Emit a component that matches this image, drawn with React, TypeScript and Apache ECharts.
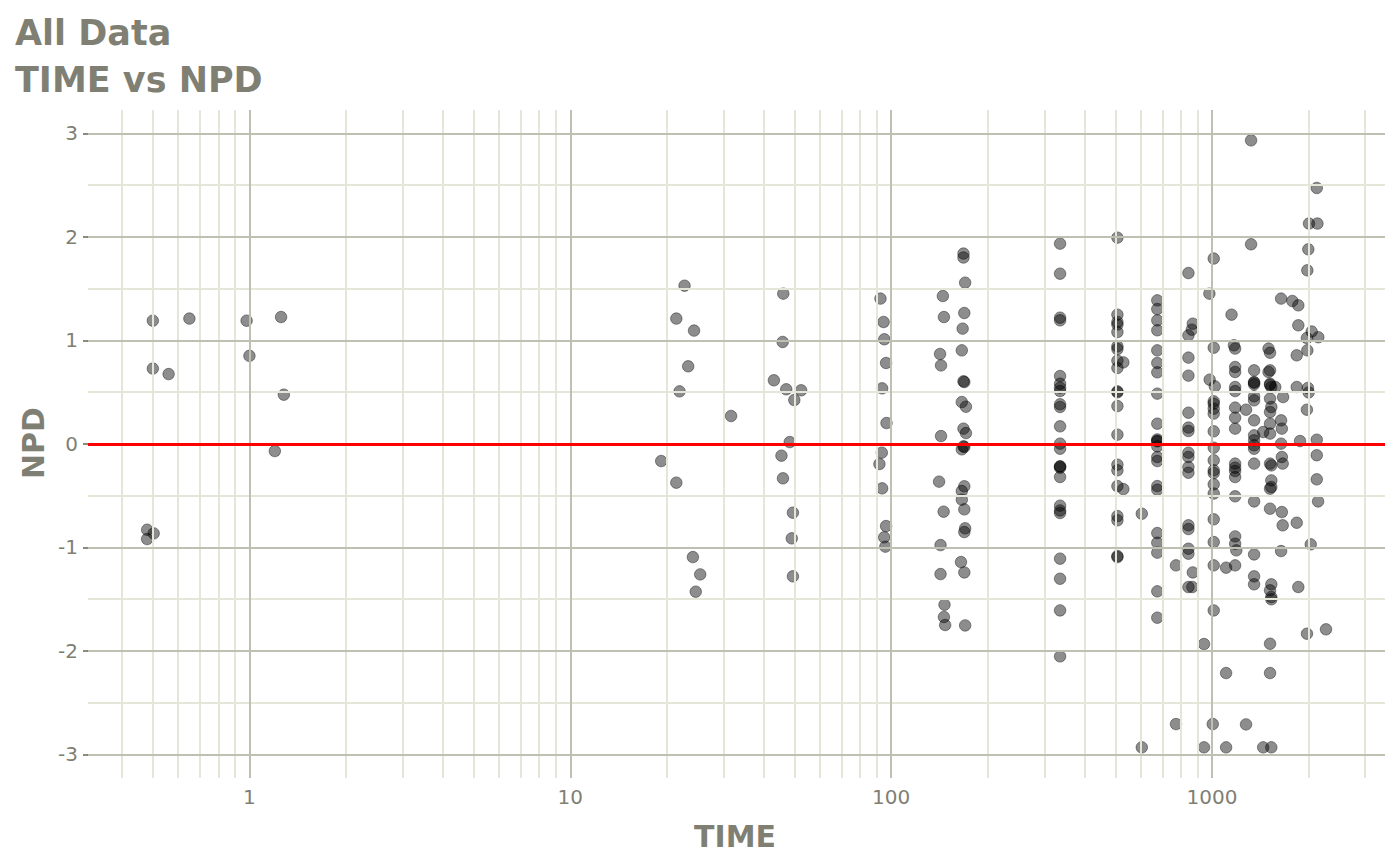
import React, { useEffect, useRef } from 'react';
import * as echarts from 'echarts';

// [TIME, NPD] observations, grouped by time range
const obsBelow2: number[][] = [
  [0.5, 1.19], [0.65, 1.21], [0.98, 1.19], [1.255, 1.225], [1.0, 0.85], [0.5, 0.727], [0.56, 0.674],
  [1.28, 0.475], [1.2, -0.07], [0.48, -0.83], [0.503, -0.865], [0.48, -0.92],
];

const obs19to53: number[][] = [
  [22.7, 1.528], [46.1, 1.451], [21.4, 1.21], [24.3, 1.094], [45.9, 0.984], [23.3, 0.749], [43.1, 0.614],
  [21.9, 0.507], [47.1, 0.527], [52.4, 0.517], [49.9, 0.423], [31.7, 0.269], [48.3, 0.017], [19.2, -0.166],
  [45.5, -0.114], [21.4, -0.375], [46.0, -0.333], [49.4, -0.665], [49.0, -0.913], [24.1, -1.094],
  [25.4, -1.261], [24.6, -1.428], [49.4, -1.28],
];

const obs90to170: number[][] = [
  [92.6, 1.403], [94.7, 1.177], [95.2, 1.01], [96.4, 0.781], [93.7, 0.536], [96.7, 0.201], [93.5, -0.085],
  [91.9, -0.195], [93.7, -0.43], [96.4, -0.794], [95.1, -0.903], [95.9, -0.993],
  [144.9, 1.428], [146, 1.225], [142, 0.868], [143, 0.758], [143, 0.075], [141, -0.365], [145.7, -0.655],
  [142.5, -0.978], [142.5, -1.258], [146.6, -1.554], [146, -1.673], [147.3, -1.75],
  [168, 1.838], [168, 1.8], [170, 1.557], [169, 1.264], [167, 1.113], [166, 0.903], [168, 0.604], [169, 0.597],
  [166, 0.404], [171, 0.359], [168, 0.147], [171, 0.104], [168, -0.024], [166, -0.053], [169, -0.03],
  [169, -0.41], [166, -0.456], [166, -0.539], [169, -0.633], [170, -0.816], [169, -0.852], [165, -1.142],
  [169, -1.242], [170, -1.754],
];

const obs330to610: number[][] = [
  [336, 1.934], [336, 1.644], [336, 1.219], [336, 1.193], [336, 0.655], [336, 0.581], [336, 0.543], [336, 0.51],
  [336, 0.382], [336, 0.356], [336, 0.169], [336, 0.002], [336, -0.047], [336, -0.217], [336, -0.23],
  [336, -0.22], [336, -0.32], [336, -0.597], [336, -0.643], [336, -0.668], [336, -1.109], [336, -1.303],
  [336, -1.609], [336, -2.053],
  [507, 1.992], [507, 1.248], [507, 1.177], [507, 1.152], [507, 1.08], [507, 0.942], [507, 0.916], [507, 0.804],
  [529, 0.787], [507, 0.733], [507, 0.507], [507, 0.498], [507, 0.365], [507, 0.089], [507, -0.201],
  [507, -0.256], [507, -0.408], [529, -0.437], [507, -0.698], [507, -0.739], [507, -1.084], [507, -1.094],
  [604, -0.675], [604, -2.932],
];

const obs670to1110: number[][] = [
  [675, 1.386], [675, 1.302], [675, 1.193], [675, 1.097], [675, 0.903], [675, 0.781], [675, 0.691], [675, 0.485],
  [675, 0.195], [675, 0.043], [675, 0.024], [675, 0.03], [675, -0.024], [675, -0.127], [675, -0.166],
  [675, -0.408], [675, -0.443], [675, -0.862], [675, -0.955], [675, -1.051], [675, -1.425], [675, -1.679],
  [772, -1.174], [772, -2.707],
  [844, 1.65], [871, 1.161], [865, 1.103], [844, 1.048], [844, 0.833], [844, 0.659], [844, 0.301], [844, 0.157],
  [844, 0.124], [844, -0.085], [844, -0.127], [844, -0.224], [844, -0.279], [844, -0.787], [844, -0.823],
  [844, -1.013], [844, -1.061], [871, -1.242], [844, -1.383], [868, -1.383],
  [944, -1.934], [944, -2.932],
  [1012, 1.79], [981, 1.451], [1012, 0.929], [983, 0.62], [1020, 0.556], [1012, 0.411], [1012, 0.388],
  [1012, 0.34], [1012, 0.292], [1012, 0.121], [1012, -0.037], [1012, -0.159], [1012, -0.256], [1012, -0.282],
  [1012, -0.391], [1012, -0.48], [1012, -0.729], [1012, -0.949], [1012, -1.174], [1012, -1.609], [1005, -2.707],
  [1106, -1.196], [1106, -2.214], [1106, -2.932],
];

const obs1150to1700: number[][] = [
  [1150, 1.248], [1170, 0.952], [1180, 0.92], [1180, 0.742], [1180, 0.694], [1180, 0.549], [1180, 0.51],
  [1180, 0.35], [1180, 0.253], [1180, 0.147], [1180, -0.191], [1180, -0.23], [1180, -0.263], [1180, -0.321],
  [1180, -0.507], [1180, -0.894], [1180, -0.965], [1190, -1.029], [1180, -1.174],
  [1276, 0.33], [1276, -2.71],
  [1323, 2.932], [1323, 1.928], [1352, 0.71], [1352, 0.597], [1352, 0.59], [1352, 0.575], [1352, 0.459],
  [1352, 0.42], [1352, 0.227], [1352, 0.082], [1352, 0.034], [1352, -0.014], [1352, -0.047], [1352, -0.191],
  [1352, -0.556], [1352, -1.068], [1352, -1.28], [1352, -1.357],
  [1443, 0.114], [1443, -2.932],
  [1500, 0.92], [1516, 0.88], [1516, 0.71], [1500, 0.694], [1516, 0.58], [1516, 0.57], [1530, 0.549],
  [1516, 0.437], [1530, 0.356], [1516, 0.307], [1516, 0.195], [1516, 0.099], [1516, -0.191], [1530, -0.208],
  [1530, -0.353], [1530, -0.417], [1516, -0.433], [1516, -0.626], [1530, -1.357], [1516, -1.415],
  [1530, -1.48], [1530, -1.502], [1516, -1.931], [1516, -2.214], [1530, -2.932],
  [1574, 0.549],
  [1641, 1.403], [1665, 0.452], [1641, 0.227], [1650, 0.147], [1641, 0.002], [1650, -0.127], [1660, -0.191],
  [1650, -0.659], [1660, -0.787], [1641, -1.036],
];

const obs1750plus: number[][] = [
  [1779, 1.38], [1857, 1.338], [1857, 1.145], [1836, 0.855], [1836, 0.549], [1880, 0.027], [1836, -0.762],
  [1857, -1.383],
  [2005, 2.128], [1995, 1.879], [1981, 1.676], [2044, 1.085], [1975, 1.022], [1981, 0.903], [1990, 0.54],
  [2000, 0.497], [1975, 0.33], [2030, -0.971], [1976, -1.834],
  [2120, 2.472], [2130, 2.128], [2143, 1.03], [2120, 0.04], [2120, -0.11], [2120, -0.343], [2140, -0.556],
  [2265, -1.792],
];

// axis ranges and reference lines
const X_MIN = 0.314;
const X_MAX = 3459;
const Y_MIN = -3.228;
const Y_MAX = 3.225;
const X_MAJOR = [1, 10, 100, 1000];
const X_MINOR = [
  0.4, 0.5, 0.6, 0.7, 0.8, 0.9, 2, 3, 4, 5, 6, 7, 8, 9, 20, 30, 40, 50, 60, 70, 80, 90,
  200, 300, 400, 500, 600, 700, 800, 900, 2000, 3000,
];
const Y_MAJOR = [-3, -2, -1, 0, 1, 2, 3];
const Y_MINOR = [-2.5, -1.5, -0.5, 0.5, 1.5, 2.5];
const REF_LINE = 0;

const TEXT_COLOR = '#7f7f74';
const MAJOR_COLOR = '#bfbfb2';
const MINOR_COLOR = '#e6e6d8';
const TICK_COLOR = '#8a8a80';
const FONT = '"DejaVu Sans", sans-serif';

export default function App() {
  const ref = useRef<HTMLDivElement>(null);

  useEffect(() => {
    if (!ref.current) return;
    const chart = echarts.init(ref.current, undefined, { renderer: 'svg' });
    const allObs = [
      ...obsBelow2, ...obs19to53, ...obs90to170, ...obs330to610,
      ...obs670to1110, ...obs1150to1700, ...obs1750plus,
    ];
    const gridLines = [
      ...X_MINOR.map((v) => ({ xAxis: v, lineStyle: { color: MINOR_COLOR, width: 2, type: 'solid' } })),
      ...Y_MINOR.map((v) => ({ yAxis: v, lineStyle: { color: MINOR_COLOR, width: 2, type: 'solid' } })),
      ...X_MAJOR.map((v) => ({ xAxis: v, lineStyle: { color: MAJOR_COLOR, width: 2, type: 'solid' } })),
      ...Y_MAJOR.map((v) => ({ yAxis: v, lineStyle: { color: MAJOR_COLOR, width: 2, type: 'solid' } })),
    ];
    const option: any = {
      animation: false,
      backgroundColor: '#ffffff',
      textStyle: { fontFamily: FONT },
      grid: { left: 88, right: 15, top: 110, bottom: 87, containLabel: false },
      xAxis: {
        type: 'log',
        logBase: 10,
        min: X_MIN,
        max: X_MAX,
        axisLine: { show: false },
        axisTick: { show: true, length: 5, customValues: X_MAJOR, lineStyle: { color: TICK_COLOR, width: 2 } },
        axisLabel: {
          customValues: X_MAJOR,
          color: TEXT_COLOR,
          fontSize: 20,
          fontFamily: FONT,
          margin: 9,
          formatter: (v: number) => (v >= 1 ? String(Math.round(v)) : String(v)),
        },
        splitLine: { show: false },
        minorTick: { show: false },
      },
      yAxis: {
        type: 'value',
        min: Y_MIN,
        max: Y_MAX,
        axisLine: { show: false },
        axisTick: { show: true, length: 5, customValues: Y_MAJOR, lineStyle: { color: TICK_COLOR, width: 2 } },
        axisLabel: {
          customValues: Y_MAJOR,
          color: TEXT_COLOR,
          fontSize: 20,
          fontFamily: FONT,
          margin: 10,
        },
        splitLine: { show: false },
      },
      graphic: [
        {
          type: 'text', x: 15, y: 33,
          style: { text: 'All Data', fill: TEXT_COLOR, fontSize: 35, fontWeight: 'bold', fontFamily: FONT, align: 'left', verticalAlign: 'middle' },
        },
        {
          type: 'text', x: 15, y: 80,
          style: { text: 'TIME vs NPD', fill: TEXT_COLOR, fontSize: 35, fontWeight: 'bold', fontFamily: FONT, align: 'left', verticalAlign: 'middle' },
        },
        {
          type: 'text', x: 735, y: 836,
          style: { text: 'TIME', fill: TEXT_COLOR, fontSize: 30, fontWeight: 'bold', fontFamily: FONT, align: 'center', verticalAlign: 'middle' },
        },
        {
          type: 'text', x: 33, y: 443, rotation: Math.PI / 2,
          style: { text: 'NPD', fill: TEXT_COLOR, fontSize: 30, fontWeight: 'bold', fontFamily: FONT, align: 'center', verticalAlign: 'middle' },
        },
      ],
      series: [
        {
          type: 'scatter',
          data: [],
          z: 1,
          silent: true,
          markLine: {
            silent: true,
            symbol: ['none', 'none'],
            label: { show: false },
            emphasis: { disabled: true },
            data: gridLines,
          },
        },
        {
          type: 'scatter',
          data: [],
          z: 2,
          silent: true,
          markLine: {
            silent: true,
            symbol: ['none', 'none'],
            label: { show: false },
            emphasis: { disabled: true },
            data: [{ yAxis: REF_LINE, lineStyle: { color: '#ff0000', width: 3, type: 'solid' } }],
          },
        },
        {
          type: 'scatter',
          name: 'NPD',
          z: 3,
          symbol: 'circle',
          symbolSize: 11.5,
          itemStyle: { color: 'rgba(0,0,0,0.56)', borderColor: 'rgba(0,0,0,0.5)', borderWidth: 1 },
          data: allObs,
        },
      ],
    };
    chart.setOption(option);
    return () => chart.dispose();
  }, []);

  return <div ref={ref} style={{ position: 'absolute', left: 0, top: 0, width: 1400, height: 865 }} />;
}
